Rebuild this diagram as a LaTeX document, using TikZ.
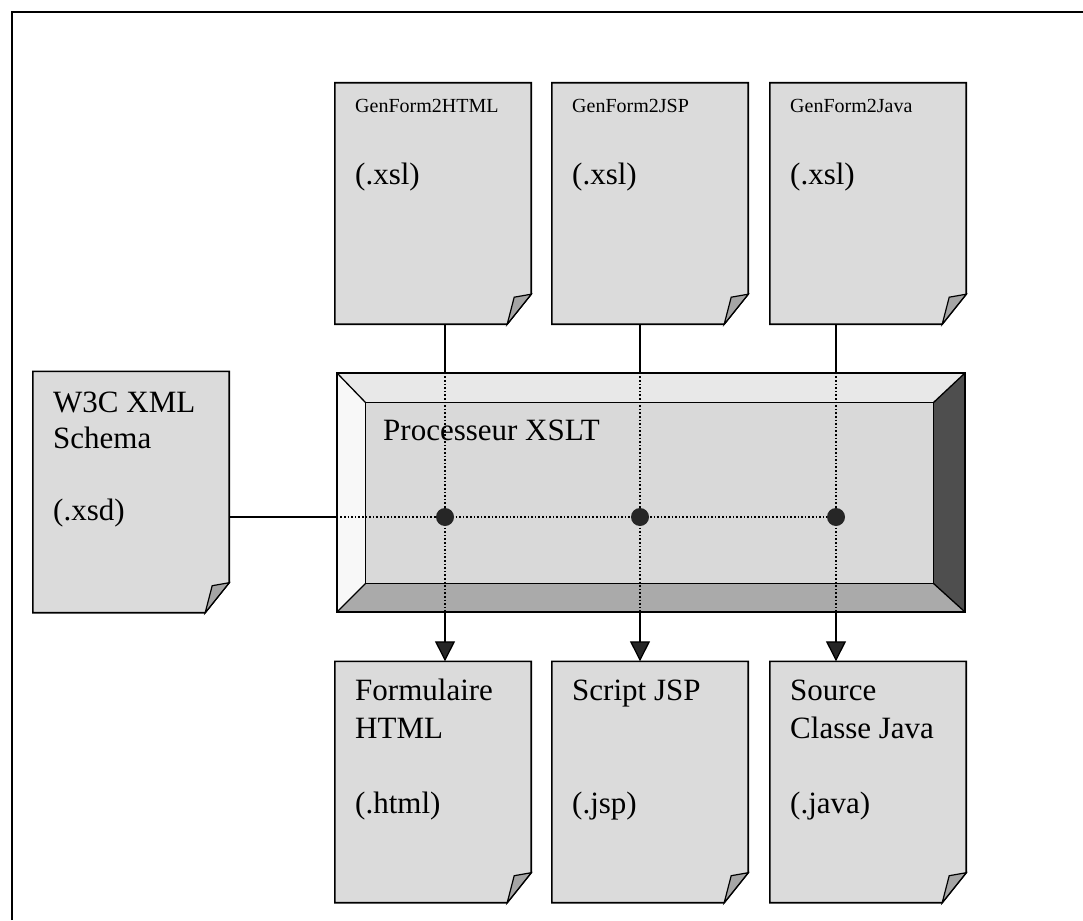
\documentclass[tikz,border=0pt]{standalone}
\usepackage{fontspec}
\setmainfont{Liberation Serif}
\usetikzlibrary{arrows.meta}

\definecolor{paper}{RGB}{219,219,219}
\definecolor{flapcol}{RGB}{165,165,165}
\definecolor{facecol}{RGB}{217,217,217}
\definecolor{bevtop}{RGB}{232,232,232}
\definecolor{bevleft}{RGB}{248,248,248}
\definecolor{bevbottom}{RGB}{170,170,170}
\definecolor{bevright}{RGB}{78,78,78}
\definecolor{hubcol}{RGB}{38,38,38}

\begin{document}
\begin{tikzpicture}[x=1pt,y=-1pt,
  docbox/.style={rectangle, inner sep=0pt, minimum width=196pt, minimum height=241pt},
  docline/.style={line width=1.6pt, line join=miter},
  big/.style={font=\fontsize{31}{36}\selectfont, inner sep=0pt, anchor=base west},
  small/.style={font=\fontsize{20}{24}\selectfont, inner sep=0pt, anchor=base west},
  conn/.style={line width=1.3pt},
  dotconn/.style={line width=1.6pt, dash pattern=on 1.6pt off 2pt},
  hub/.style={circle, fill=hubcol, minimum size=18pt, inner sep=0pt},
  tip/.style={-{Triangle[width=20pt,length=20pt,fill=hubcol]}}
]
\useasboundingbox (0,0) rectangle (1083,920);
\fill[white] (0,0) rectangle (1083,920);

% outer frame
\draw[line width=2pt] (12,920) -- (12,12) -- (1083,12);

% document sheets
\node[docbox] (x1)  at (433,203.5) {};
\node[docbox] (x2)  at (650,203.5) {};
\node[docbox] (x3)  at (868,203.5) {};
\node[docbox] (src) at (131,492) {};
\node[docbox] (o1)  at (433,782) {};
\node[docbox] (o2)  at (650,782) {};
\node[docbox] (o3)  at (868,782) {};

\foreach \n in {x1,x2,x3,src,o1,o2,o3}{
  \filldraw[docline, fill=paper] (\n.north west) -- (\n.north east)
     -- ([yshift=30pt]\n.south east) -- ([xshift=-24pt]\n.south east)
     -- (\n.south west) -- cycle;
  \filldraw[line width=1.2pt, line join=miter, fill=flapcol]
     ([yshift=30pt]\n.south east) -- ([xshift=-24pt]\n.south east)
     -- ([shift={(-17pt,27pt)}]\n.south east) -- cycle;
}

% XSLT processor: bevelled box
\node[rectangle, inner sep=0pt, minimum width=628pt, minimum height=239pt] (proc) at (651,492.5) {};
\coordinate (pinw) at ([shift={(29pt,-30pt)}]proc.north west);
\coordinate (pine) at ([shift={(-32pt,-30pt)}]proc.north east);
\coordinate (pise) at ([shift={(-32pt,29pt)}]proc.south east);
\coordinate (pisw) at ([shift={(29pt,29pt)}]proc.south west);
\fill[bevtop] (proc.north west) -- (proc.north east) -- (pine) -- (pinw) -- cycle;
\fill[bevleft] (proc.north west) -- (pinw) -- (pisw) -- (proc.south west) -- cycle;
\fill[bevbottom] (proc.south west) -- (pisw) -- (pise) -- (proc.south east) -- cycle;
\fill[bevright] (proc.north east) -- (proc.south east) -- (pise) -- (pine) -- cycle;
\fill[facecol] (pinw) rectangle (pise);
\draw[line width=1.3pt] (pinw) rectangle (pise);
\draw[line width=1.3pt] (proc.north west) -- (pinw) (proc.north east) -- (pine)
  (proc.south east) -- (pise) (proc.south west) -- (pisw);
\draw[line width=1.6pt] (proc.north west) rectangle (proc.south east);

% junction points
\coordinate (d1) at (445,517);
\coordinate (d2) at (640,517);
\coordinate (d3) at (836,517);

% schema input
\draw[conn] (src.east |- d1) -- (proc.west |- d1);
\draw[dotconn] (proc.west |- d1) -- (d3);

% stylesheets through the processor to the generated files
\foreach \d/\a/\b in {d1/x1/o1, d2/x2/o2, d3/x3/o3}{
  \draw[conn] (\d |- \a.south) -- (\d |- proc.north);
  \draw[dotconn] (\d |- proc.north) -- (\d |- proc.south);
  \draw[conn, tip] (\d |- proc.south) -- (\d |- \b.north);
}

\node[hub] (h1) at (d1) {};
\node[hub] (h2) at (d2) {};
\node[hub] (h3) at (d3) {};

% labels
\node[small] (t1) at (355,113) {GenForm2HTML};
\node[small] (t2) at (572,113) {GenForm2JSP};
\node[small] (t3) at (790,113) {GenForm2Java};
\node[big] (e1) at (355,185) {(.xsl)};
\node[big] (e2) at (572,185) {(.xsl)};
\node[big] (e3) at (790,185) {(.xsl)};

\node[big] (s1) at (53,412) {W3C XML};
\node[big] (s2) at (53,448) {Schema};
\node[big] (s3) at (53,520) {(.xsd)};

\node[big] (pt) at (383,440) {Processeur XSLT};

\node[big] (f1) at (355,700) {Formulaire};
\node[big] (f2) at (355,738) {HTML};
\node[big] (f3) at (355,813) {(.html)};
\node[big] (j1) at (572,700) {Script JSP};
\node[big] (j3) at (572,813) {(.jsp)};
\node[big] (c1) at (790,700) {Source};
\node[big] (c2) at (790,738) {Classe Java};
\node[big] (c3) at (790,813) {(.java)};
\end{tikzpicture}
\end{document}
